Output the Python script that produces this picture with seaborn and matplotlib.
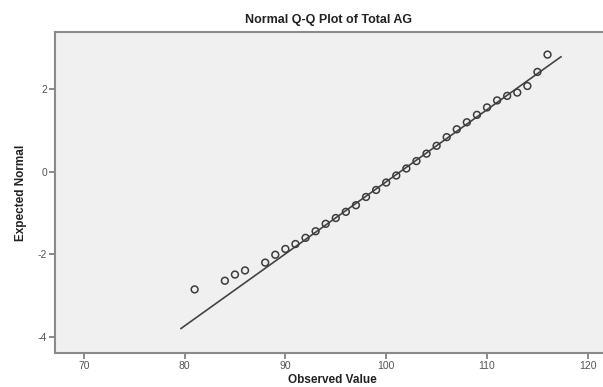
import matplotlib
matplotlib.use("Agg")
import matplotlib.pyplot as plt
import seaborn as sns
import pandas as pd

# Data
observed = [81, 84, 85, 86, 88, 89, 90, 91, 92, 93, 94, 95, 96, 97, 98, 99, 100,
            101, 102, 103, 104, 105, 106, 107, 108, 109, 110, 111, 112, 113, 114, 115, 116]
expected = [-2.85, -2.64, -2.49, -2.39, -2.20, -2.01, -1.87, -1.75, -1.60, -1.44, -1.26,
            -1.12, -0.97, -0.81, -0.61, -0.44, -0.26, -0.09, 0.08, 0.26, 0.44, 0.63,
            0.84, 1.03, 1.20, 1.38, 1.56, 1.73, 1.84, 1.92, 2.08, 2.42, 2.84]
line_x = [79.63, 117.35]
line_y = [-3.80, 2.79]
x_ticks = [70, 80, 90, 100, 110, 120]
y_ticks = [-4, -2, 0, 2]

sns.set_theme(style="ticks")
plt.rcParams['font.family'] = ['Liberation Sans', 'DejaVu Sans']
plt.rcParams['axes.unicode_minus'] = False

fig = plt.figure(figsize=(6.03, 3.87), dpi=100)
ax = fig.add_axes([0.092, 0.089, 0.918, 0.8275])
ax.set_facecolor('#f0f0f0')

pts = pd.DataFrame({'Observed Value': observed, 'Expected Normal': expected})
ln = pd.DataFrame({'x': line_x, 'y': line_y})

sns.lineplot(data=ln, x='x', y='y', ax=ax, color='#444444', linewidth=1.2, zorder=2)
sns.scatterplot(data=pts, x='Observed Value', y='Expected Normal', ax=ax,
                marker='o', s=24, facecolor='none', edgecolor='#3c3c3c',
                linewidth=1.1, zorder=3)

ax.set_xlim(67.2, 122.1)
ax.set_ylim(-4.38, 3.38)
ax.set_xticks(x_ticks)
ax.set_yticks(y_ticks)
ax.tick_params(axis='both', direction='out', length=4, width=1.2, color='#777777',
               labelsize=7.5, labelcolor='#555555', pad=2)
for s in ax.spines.values():
    s.set_color('#8a8a8a')
    s.set_linewidth(1.5)

ax.set_xlabel('Observed Value', fontsize=8.5, fontweight='bold', color='#222222', labelpad=2)
ax.set_ylabel('Expected Normal', fontsize=8.5, fontweight='bold', color='#222222', labelpad=8)
fig.text(0.545, 0.948, 'Normal Q-Q Plot of Total AG', ha='center', va='center',
         fontsize=9, fontweight='bold', color='#222222')

fig.savefig('out.png', dpi=100)
